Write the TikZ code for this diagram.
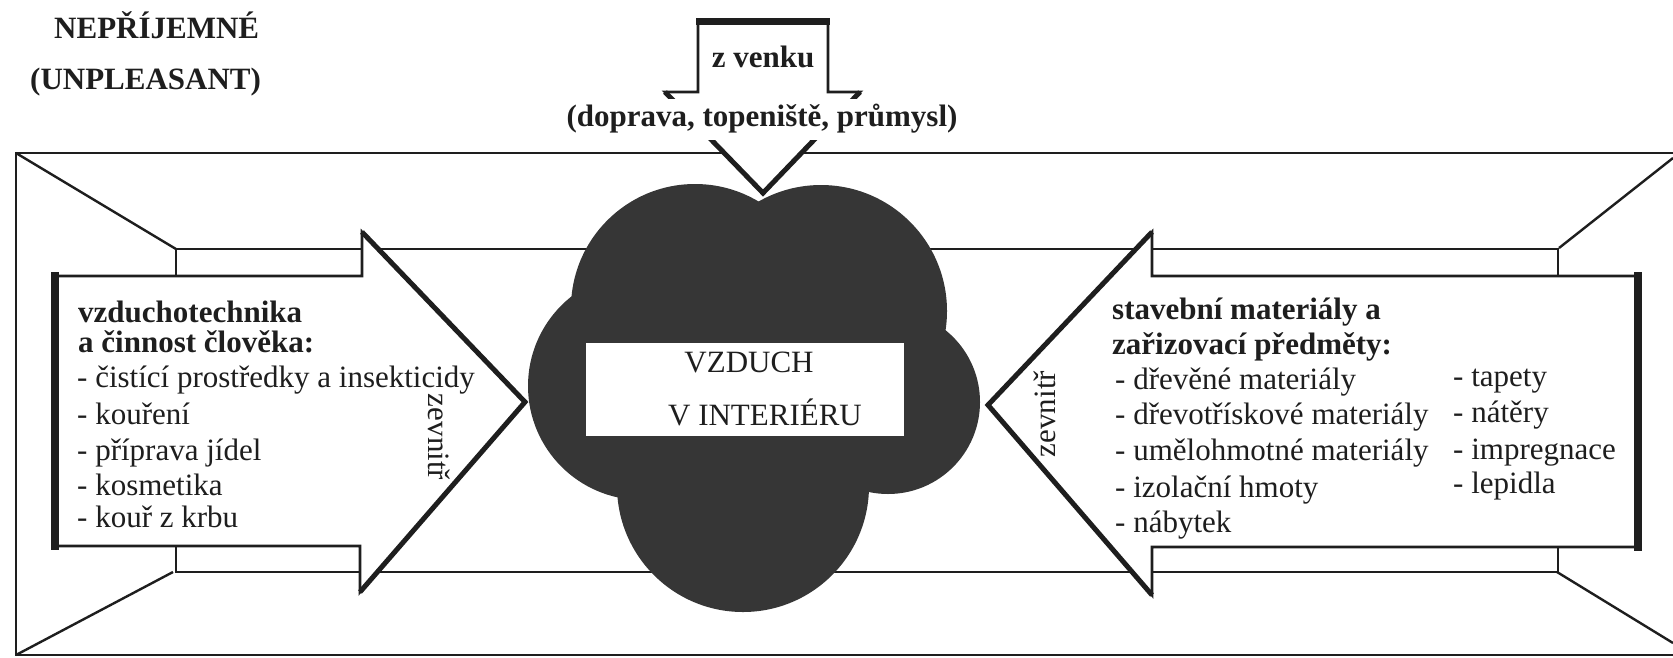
\documentclass[tikz,border=0pt]{standalone}
\usepackage{fontspec}
\setmainfont{Liberation Serif}
\usetikzlibrary{positioning}
\definecolor{ink}{HTML}{1E1E1E}
\definecolor{smog}{HTML}{363636}
\newcommand{\bigtext}{\fontsize{31}{34}\selectfont}

\begin{document}
\begin{tikzpicture}[x=1pt, y=-1pt,
  wall/.style={draw=ink, line width=2.4pt},
  outline/.style={draw=ink, line width=2.8pt, fill=white},
  heavy/.style={draw=ink, line width=5pt},
  label/.style={font=\bigtext, text=ink, inner sep=0pt, text height=21pt, text depth=7pt},
  headline/.style={label, font=\bigtext\bfseries}]
\useasboundingbox (0,0) rectangle (1673,657);
% room: outer frame, back wall and corner edges
\draw[wall] (1673,153) -- (16,153) -- (16,655) -- (1673,655);
\draw[wall] (16,153) -- (176,249) (16,655) -- (173,572);
\draw[wall] (1673,158) -- (1559,248) (1673,643) -- (1557,572);
\draw[wall] (176,249) rectangle (1558,572);
% air cloud
\fill[smog] (695,308) circle (124pt);
\fill[smog] (821,311) circle (126pt);
\fill[smog] (642,386) circle (114pt);
\fill[smog] (888,402) circle (92pt);
\fill[smog] (743,486) circle (126pt);
\fill[white] (586,343) rectangle (904,436);
\node[label] (air) at (749,365) {VZDUCH};
\node[label] (airIn) at (765,418) {V INTERIÉRU};
% arrow from the left
\draw[outline] (55,276) -- (362,276) -- (362,232) -- (525,402) -- (360,592) -- (360,546) -- (55,546) -- cycle;
\draw[heavy, line width=8pt] (55,272) -- (55,550);
\draw[heavy] (362,232) -- (525,402) -- (360,592);
\node[headline, anchor=west] (vent) at (78,315) {vzduchotechnika};
\node[headline, anchor=west] (human) at (78,345) {a činnost člověka:};
\foreach \y/\t [count=\i] in {380/- čistící prostředky a insekticidy, 417/- kouření,
    453/- příprava jídel, 488/- kosmetika, 520/- kouř z krbu}
  \node[label, anchor=west] (srcL\i) at (77,\y) {\t};
\node[label, rotate=-90] (inL) at (435,437) {zevnitř};
% arrow from the right
\draw[outline] (1638,276) -- (1152,276) -- (1152,232) -- (988,405) -- (1152,595) -- (1152,547) -- (1638,547) -- cycle;
\draw[heavy, line width=8pt] (1638,272) -- (1638,551);
\draw[heavy] (1152,232) -- (988,405) -- (1152,595);
\node[headline, anchor=west] (build) at (1112,312) {stavební materiály a};
\node[headline, anchor=west] (furnish) at (1112,347) {zařizovací předměty:};
\foreach \y/\t [count=\i] in {382/- dřevěné materiály, 417/- dřevotřískové materiály,
    453/- umělohmotné materiály, 490/- izolační hmoty, 525/- nábytek}
  \node[label, anchor=west] (srcR\i) at (1115,\y) {\t};
\foreach \y/\t [count=\i] in {379/- tapety, 415/- nátěry, 452/- impregnace, 486/- lepidla}
  \node[label, anchor=west] (srcRR\i) at (1453,\y) {\t};
\node[label, rotate=90] (inR) at (1048,414) {zevnitř};
% arrow from outside
\draw[outline] (698,21) -- (828,21) -- (828,92) -- (860,92) -- (763,193) -- (665,92) -- (698,92) -- cycle;
\draw[heavy, line width=7pt] (696,21) -- (830,21);
\draw[heavy] (665,92) -- (763,193) -- (860,92);
\node[headline] (outside) at (763,60) {z venku};
\node[headline, fill=white, inner xsep=3pt, inner ysep=6.5pt] (sources) at (762,119) {(doprava, topeniště, průmysl)};
% title
\node[headline, anchor=west] (title) at (54,31) {NEPŘÍJEMNÉ};
\node[headline, anchor=west] (titleEn) at (30,82) {(UNPLEASANT)};
\end{tikzpicture}
\end{document}
